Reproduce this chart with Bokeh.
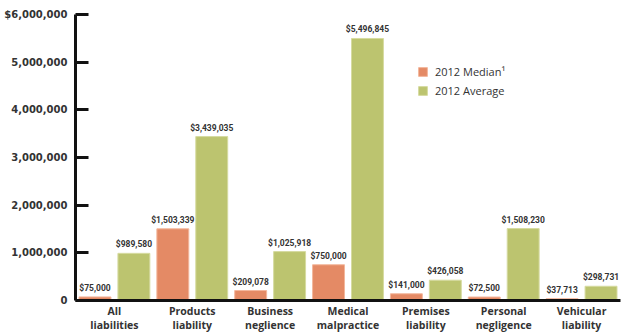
from bokeh.plotting import figure
from bokeh.models import ColumnDataSource, FixedTicker, Legend, LegendItem
from bokeh.transform import dodge
from bokeh.core.properties import value
from bokeh.embed import file_html
from bokeh.resources import INLINE

categories = ["All\nliabilities", "Products\nliability", "Business\nneglience", "Medical\nmalpractice",
              "Premises\nliability", "Personal\nnegligence", "Vehicular\nliability"]
median_2012 = [75000, 1503339, 209078, 750000, 141000, 72500, 37713]
average_2012 = [989580, 3439035, 1025918, 5496845, 426058, 1508230, 298731]
y_ticks = [0, 1000000, 2000000, 3000000, 4000000, 5000000, 6000000]
y_tick_labels = ["0", "1,000,000", "2,000,000", "3,000,000", "4,000,000", "5,000,000", "$6,000,000"]

src = ColumnDataSource(dict(
    cat=categories,
    med=median_2012,
    avg=average_2012,
    med_lbl=["${:,}".format(v) for v in median_2012],
    avg_lbl=["${:,}".format(v) for v in average_2012],
))

ORANGE = "#E48A65"
GREEN = "#BCC46F"
FONT = "Open Sans"
NUMFONT = "DejaVu Sans"
VALFONT = "Roboto"

p = figure(width=625, height=335, x_range=categories, y_range=(0, 6000000),
           output_backend="svg", toolbar_location=None,
           min_border_left=75, min_border_right=5, min_border_top=14, min_border_bottom=35)
p.x_range.range_padding = 0
p.outline_line_color = None
p.xgrid.grid_line_color = None
p.ygrid.grid_line_color = None

r1 = p.vbar(x=dodge("cat", -0.25, range=p.x_range), top="med", width=0.41, source=src,
            fill_color=ORANGE, line_color="#F3B79C", line_width=1)
r2 = p.vbar(x=dodge("cat", 0.25, range=p.x_range), top="avg", width=0.41, source=src,
            fill_color=GREEN, line_color="#D6DBA0", line_width=1)

p.text(x=dodge("cat", -0.25, range=p.x_range), y="med", text="med_lbl", source=src,
       text_align="center", text_baseline="bottom", y_offset=-4,
       text_font=value(VALFONT), text_font_style="bold", text_font_size="8.5px", text_color="#333333")
p.text(x=dodge("cat", 0.25, range=p.x_range), y="avg", text="avg_lbl", source=src,
       text_align="center", text_baseline="bottom", y_offset=-4,
       text_font=value(VALFONT), text_font_style="bold", text_font_size="8.5px", text_color="#333333")

ya = p.yaxis[0]
ya.ticker = FixedTicker(ticks=y_ticks)
ya.major_label_overrides = {t: l for t, l in zip(y_ticks, y_tick_labels)}
ya.axis_line_width = 3
ya.axis_line_color = "#111111"
ya.major_tick_in = 13
ya.major_tick_out = 0
ya.major_tick_line_width = 3
ya.major_tick_line_color = "#111111"
ya.minor_tick_line_color = None
ya.major_label_text_font = NUMFONT
ya.major_label_text_font_style = "bold"
ya.major_label_text_font_size = "10px"
ya.major_label_text_color = "#333333"
ya.major_label_standoff = 8

xa = p.xaxis[0]
xa.axis_line_width = 3
xa.axis_line_color = "#111111"
xa.major_tick_line_color = None
xa.major_tick_in = 0
xa.major_tick_out = 0
xa.minor_tick_line_color = None
xa.minor_tick_in = 0
xa.minor_tick_out = 0
xa.major_label_text_font = FONT
xa.major_label_text_font_style = "bold"
xa.major_label_text_font_size = "10.5px"
xa.major_label_text_line_height = 1.05
xa.major_label_text_color = "#333333"
xa.major_label_standoff = 3

legend = Legend(items=[LegendItem(label="2012 Median\u00b9", renderers=[r1]),
                       LegendItem(label="2012 Average", renderers=[r2])],
                location=(342, 202), border_line_color=None, background_fill_alpha=0,
                glyph_width=11, glyph_height=11, label_text_font=FONT,
                label_text_font_size="11px", label_text_color="#333333",
                spacing=4, padding=4, label_standoff=7)
p.add_layout(legend)

open("out.html", "w").write(file_html(p, INLINE))
